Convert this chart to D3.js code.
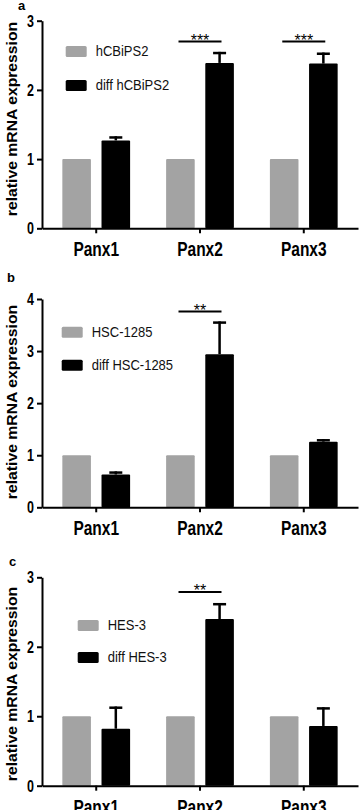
<!DOCTYPE html>
<html>
<head>
<meta charset="utf-8">
<script src="https://cdn.jsdelivr.net/npm/d3@7"></script>
<style>
  body { margin: 0; background: #fff; }
  svg { display: block; font-family: "Liberation Sans", Arial, sans-serif; }
</style>
</head>
<body>
<div id="chart"></div>
<script>
/* Panx expression, three panels */

const categories = ["Panx1", "Panx2", "Panx3"];

// panel a
const legendA = ["hCBiPS2", "diff hCBiPS2"];
const ctrlA = [1, 1, 1];
const diffA = [1.27, 2.39, 2.38];
const errA = [0.06, 0.16, 0.16];
const ticksA = [0, 1, 2, 3];
const sigA = [{ cat: "Panx2", label: "***", y: 2.70 }, { cat: "Panx3", label: "***", y: 2.70 }];

// panel b
const legendB = ["HSC-1285", "diff HSC-1285"];
const ctrlB = [1, 1, 1];
const diffB = [0.63, 2.94, 1.26];
const errB = [0.06, 0.63, 0.05];
const ticksB = [0, 1, 2, 3, 4];
const sigB = [{ cat: "Panx2", label: "**", y: 3.76 }];

// panel c
const legendC = ["HES-3", "diff HES-3"];
const ctrlC = [1, 1, 1];
const diffC = [0.82, 2.40, 0.86];
const errC = [0.32, 0.23, 0.27];
const ticksC = [0, 1, 2, 3];
const sigC = [{ cat: "Panx2", label: "**", y: 2.79 }];

const yTitle = "relative mRNA expression";

const width = 359, height = 810;
const gray = "#a3a3a3";

const panels = [
  { letter: "a", lx: 18, ly: 10, legend: legendA, ctrl: ctrlA, diff: diffA, err: errA, ticks: ticksA, sig: sigA,
    top: 20.7, bottom: 228.3, legX: 65.7, legY: 46, legGap: 34, titleY: 119 },
  { letter: "b", lx: 7, ly: 282, legend: legendB, ctrl: ctrlB, diff: diffB, err: errB, ticks: ticksB, sig: sigB,
    top: 299, bottom: 507.3, legX: 61.7, legY: 326.7, legGap: 33, titleY: 402 },
  { letter: "c", lx: 9, ly: 566, legend: legendC, ctrl: ctrlC, diff: diffC, err: errC, ticks: ticksC, sig: sigC,
    top: 577.3, bottom: 785.7, legX: 77.7, legY: 620, legGap: 32, titleY: 684 }
];

const svg = d3.select("#chart")
  .append("svg")
  .attr("width", width)
  .attr("height", height);

const x0 = d3.scaleBand()
  .domain(categories)
  .range([42, 358])
  .paddingInner(0.347)
  .paddingOuter(0.196);

const x1 = d3.scaleBand()
  .domain(["ctrl", "diff"])
  .range([0, x0.bandwidth()])
  .paddingInner(0.27);

for (const p of panels) {
  const g = svg.append("g");

  const y = d3.scaleLinear()
    .domain([0, d3.max(p.ticks)])
    .range([p.bottom, p.top]);

  const rows = categories.map((c, i) => ({ cat: c, ctrl: p.ctrl[i], diff: p.diff[i], err: p.err[i] }));

  // bars
  const grp = g.selectAll("g.grp")
    .data(rows)
    .join("g")
    .attr("class", "grp")
    .attr("transform", d => `translate(${x0(d.cat)},0)`);

  grp.append("rect")
    .attr("x", x1("ctrl"))
    .attr("width", x1.bandwidth())
    .attr("y", d => y(d.ctrl))
    .attr("height", d => y(0) - y(d.ctrl))
    .attr("rx", 1)
    .attr("fill", gray);

  // error bars (upper only)
  const cx = x1("diff") + x1.bandwidth() / 2;
  grp.append("line")
    .attr("x1", cx).attr("x2", cx)
    .attr("y1", d => y(d.diff))
    .attr("y2", d => y(d.diff + d.err))
    .attr("stroke", "#000")
    .attr("stroke-width", 2.5);

  grp.append("line")
    .attr("x1", cx - 6.5).attr("x2", cx + 6.5)
    .attr("y1", d => y(d.diff + d.err) + 1.2)
    .attr("y2", d => y(d.diff + d.err) + 1.2)
    .attr("stroke", "#000")
    .attr("stroke-width", 2.5);

  grp.append("rect")
    .attr("x", x1("diff"))
    .attr("width", x1.bandwidth())
    .attr("y", d => y(d.diff))
    .attr("height", d => y(0) - y(d.diff))
    .attr("rx", 1)
    .attr("fill", "#000");

  // axes
  const ya = g.append("g")
    .attr("transform", "translate(42,0)")
    .call(d3.axisLeft(y).tickValues(p.ticks).tickFormat(d3.format("d")).tickSize(5).tickSizeOuter(0).tickPadding(3));

  ya.selectAll("path, line").attr("stroke", "#000").attr("stroke-width", 2);
  ya.selectAll("text")
    .attr("fill", "#000")
    .attr("font-size", 12.5)
    .attr("font-weight", "bold")
    .attr("dy", "0.36em")
    .attr("transform", "scale(1,1.25)");

  const xa = g.append("g")
    .attr("transform", `translate(0,${p.bottom})`)
    .call(d3.axisBottom(x0).tickSize(5).tickSizeOuter(0));

  xa.selectAll("path, line").attr("stroke", "#000").attr("stroke-width", 2);
  xa.selectAll("text")
    .attr("fill", "#000")
    .attr("font-size", 15.5)
    .attr("font-weight", "bold")
    .attr("y", 0)
    .attr("dy", 0)
    .attr("transform", "translate(0,28) scale(1,1.25)");

  // significance
  const sg = g.selectAll("g.sig")
    .data(p.sig)
    .join("g")
    .attr("class", "sig");

  sg.append("line")
    .attr("x1", d => x0(d.cat) + x0.bandwidth() / 2 - 21.5)
    .attr("x2", d => x0(d.cat) + x0.bandwidth() / 2 + 21.5)
    .attr("y1", d => y(d.y))
    .attr("y2", d => y(d.y))
    .attr("stroke", "#000")
    .attr("stroke-width", 2);

  sg.append("text")
    .attr("x", d => x0(d.cat) + x0.bandwidth() / 2)
    .attr("y", d => y(d.y) + 4.5)
    .attr("text-anchor", "middle")
    .attr("font-size", 16)
    .text(d => d.label);

  // legend
  const leg = g.selectAll("g.leg")
    .data(p.legend)
    .join("g")
    .attr("class", "leg")
    .attr("transform", (d, i) => `translate(${p.legX},${p.legY + i * p.legGap})`);

  leg.append("rect")
    .attr("width", 21)
    .attr("height", 11)
    .attr("rx", 1.5)
    .attr("fill", (d, i) => i === 0 ? gray : "#000");

  leg.append("text")
    .attr("transform", "translate(30,9.8) scale(1,1.1)")
    .attr("font-size", 13)
    .attr("fill", "#111")
    .text(d => d);

  // y title
  g.append("text")
    .attr("transform", `translate(17,${p.titleY}) rotate(-90) scale(1.05,1)`)
    .attr("text-anchor", "middle")
    .attr("font-size", 15)
    .attr("font-weight", "bold")
    .text(yTitle);

  // panel letter
  g.append("text")
    .attr("x", p.lx)
    .attr("y", p.ly)
    .attr("font-size", 13)
    .attr("font-weight", "bold")
    .text(p.letter);
}
</script>
</body>
</html>
